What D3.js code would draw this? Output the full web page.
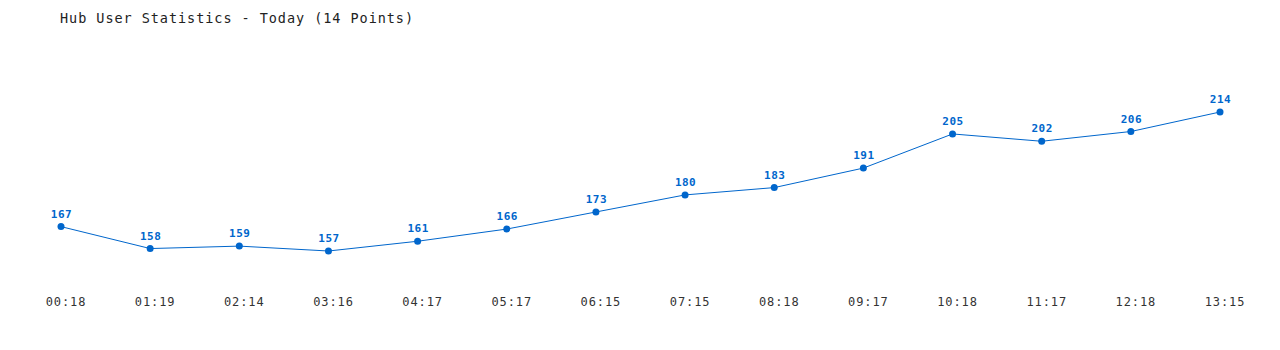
<!DOCTYPE html>
<html>
<head>
<meta charset="utf-8">
<script src="https://cdn.jsdelivr.net/npm/d3@7"></script>
<style>
  html, body { margin: 0; padding: 0; background: #fff; }
  svg text { font-family: "DejaVu Sans Mono", "Liberation Mono", monospace; }
</style>
</head>
<body>
<div id="chart"></div>
<script>
// data
const times = ['00:18', '01:19', '02:14', '03:16', '04:17', '05:17', '06:15',
               '07:15', '08:18', '09:17', '10:18', '11:17', '12:18', '13:15'];
const users = [167, 158, 159, 157, 161, 166, 173, 180, 183, 191, 205, 202, 206, 214];

const W = 1280, H = 350;
const svg = d3.select('#chart').append('svg')
  .attr('width', W).attr('height', H);

const x = d3.scalePoint().domain(times).range([61, 1220]);
const y = d3.scaleLinear().domain(d3.extent(users)).range([251, 112]);

const data = times.map((t, i) => ({ t, v: users[i] }));

// title
svg.append('text')
  .attr('x', 60).attr('y', 23)
  .attr('font-size', 13.5).attr('letter-spacing', 0.95).attr('fill', '#222')
  .text('Hub User Statistics - Today (14 Points)');

// x axis labels
svg.append('g')
  .attr('transform', 'translate(0,297)')
  .call(d3.axisBottom(x).tickSize(0).tickPadding(0))
  .call(g => g.select('.domain').remove())
  .call(g => g.selectAll('text')
    .attr('font-family', '"DejaVu Sans Mono", monospace')
    .attr('font-size', 12).attr('letter-spacing', 0.9)
    .attr('fill', '#333').attr('dy', '0.71em').attr('dx', 4.5));

// line
svg.append('path').datum(data)
  .attr('fill', 'none')
  .attr('stroke', '#0066cc')
  .attr('stroke-width', 1)
  .attr('d', d3.line().x(d => x(d.t)).y(d => y(d.v)));

// points
svg.append('g').selectAll('circle')
  .data(data).join('circle')
  .attr('cx', d => x(d.t)).attr('cy', d => y(d.v))
  .attr('r', 3.5).attr('fill', '#0066cc');

// value labels
svg.append('g').selectAll('text')
  .data(data).join('text')
  .attr('x', d => x(d.t)).attr('y', d => y(d.v) - 9)
  .attr('text-anchor', 'middle').attr('dx', 0.5)
  .attr('font-size', 11).attr('font-weight', 'bold').attr('letter-spacing', 0.5)
  .attr('fill', '#0066cc')
  .text(d => d.v);
</script>
</body>
</html>
